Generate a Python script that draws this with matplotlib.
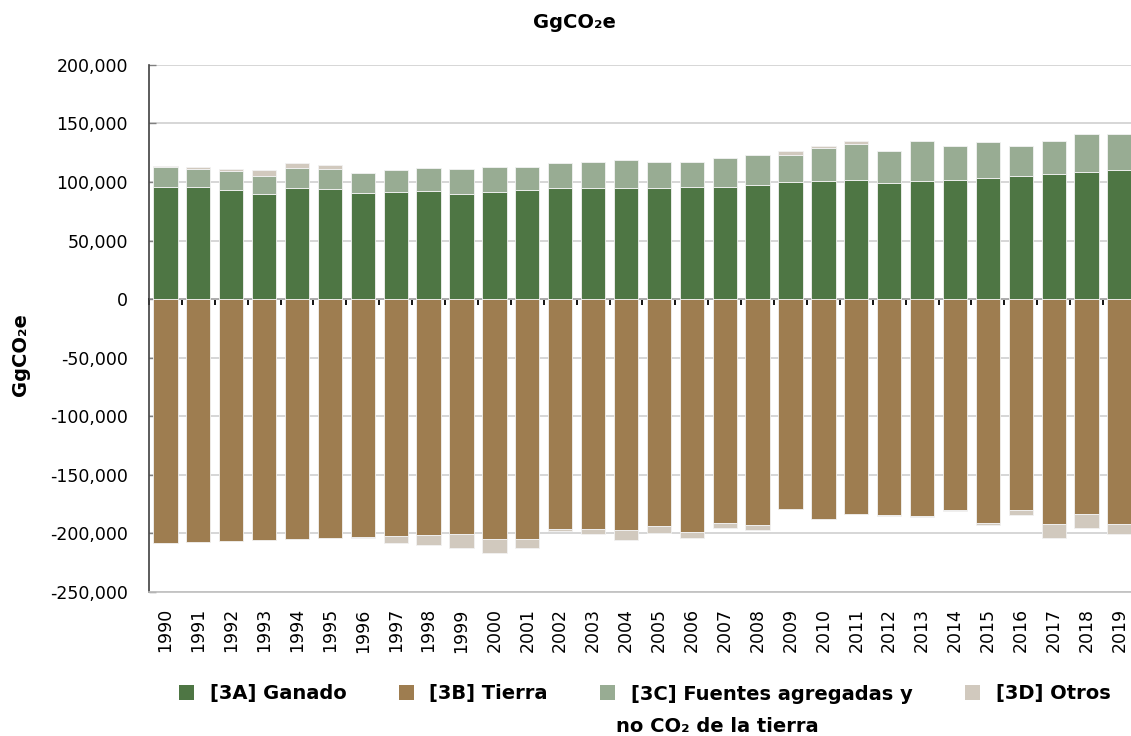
import numpy as np
import matplotlib
matplotlib.use('Agg')
import matplotlib.pyplot as plt
from matplotlib.ticker import FuncFormatter
from matplotlib.patches import Patch

## data (GgCO2e)
years = list(range(1990, 2020))
ganado = [95900, 95600, 93100, 90000, 95100, 93700, 90800, 91700, 92500, 90000,
          91700, 92800, 95100, 95100, 95100, 94500, 95600, 95900, 97400, 99900,
          100800, 101900, 99300, 101000, 101600, 103300, 105300, 107000, 108700, 110400]
tierra = [-208700, -207800, -207000, -206100, -205300, -204400, -203300, -202200, -201300, -200500,
          -205000, -205300, -196200, -196200, -197400, -194200, -199100, -191400, -193100, -179200,
          -188300, -183700, -184600, -185400, -180300, -191400, -180300, -192200, -183700, -192500]
fuentes = [17000, 15600, 16400, 15300, 17000, 17500, 16500, 18400, 19600, 20700,
           21200, 19900, 21300, 22100, 23300, 22400, 21900, 24200, 25500, 23300,
           28300, 30600, 27300, 34100, 29000, 30900, 25500, 28100, 32100, 30400]
otros = [900, 1500, 1800, 4800, 4300, 3500, -1100, -6500, -9100, -11900,
         -12500, -7100, -1700, -4600, -8200, -5700, -4800, -4000, -4300, 3100,
         1500, 2900, -600, -600, -500, -1400, -4500, -12200, -11700, -8500]

labels = ['[3A] Ganado', '[3B] Tierra', '[3C] Fuentes agregadas y', '[3D] Otros']
colors = ['#4e7644', '#9e7d50', '#98ac93', '#d1c9be']

plt.rcParams['font.family'] = ['DejaVu Sans']

fig = plt.figure(figsize=(11.31, 7.36), dpi=100)
ax = fig.add_axes([0.1317, 0.1963, 0.8727, 0.7154])

ind = np.arange(len(years))
g = np.array(ganado)
t = np.array(tierra)
f = np.array(fuentes)
o = np.array(otros)
o_bottom = np.where(o >= 0, g + f, t)

w = 0.74
ec = '#f2f2f2'
ax.bar(ind, g, w, color=colors[0], edgecolor=ec, linewidth=0.6, zorder=3)
ax.bar(ind, t, w, color=colors[1], edgecolor=ec, linewidth=0.6, zorder=3)
ax.bar(ind, f, w, bottom=g, color=colors[2], edgecolor=ec, linewidth=0.6, zorder=3)
ax.bar(ind, o, w, bottom=o_bottom, color=colors[3], edgecolor=ec, linewidth=0.6, zorder=3)

ax.set_xlim(-0.5, len(years) - 0.5)
ax.set_ylim(-250000, 200000)
ax.set_yticks(np.arange(-250000, 200001, 50000))
ax.yaxis.set_major_formatter(FuncFormatter(lambda v, p: '{:,.0f}'.format(v)))
ax.grid(which='major', axis='y', color='#cfcfcf', linewidth=1.2, zorder=0)

ax.set_xticks(ind)
ax.set_xticklabels([str(y) for y in years], rotation=90, fontsize=12.5)
ax.tick_params(axis='x', length=0, pad=12)
ax.tick_params(axis='y', labelsize=12.5, direction='in', length=5, width=1.0,
               color='#808080', pad=15)

for s in ['top', 'right']:
    ax.spines[s].set_visible(False)
ax.spines['bottom'].set_color('#bfbfbf')
ax.spines['bottom'].set_linewidth(1.2)
ax.spines['left'].set_color('#404040')
ax.spines['left'].set_linewidth(1.2)

# zero line with category ticks
zpos = 250000 / 450000
sec = ax.secondary_xaxis(zpos)
sec.set_xticks(np.arange(-0.5, len(years), 1.0))
sec.set_xticklabels([])
sec.tick_params(axis='x', direction='in', length=4.5, width=1.3, color='black')
for s in sec.spines.values():
    s.set_color('black')
    s.set_linewidth(1.4)

fig.text(0.018, 1 - 355 / 736, 'GgCO₂e', rotation=90, ha='center', va='center',
         fontsize=14, fontweight='bold')
fig.text(574 / 1131, 1 - 22 / 736, 'GgCO₂e', ha='center', va='center',
         fontsize=14, fontweight='bold')

handles = [Patch(facecolor=c, edgecolor='none') for c in colors]
leg = fig.legend(handles, labels, loc='center left', bbox_to_anchor=(179 / 1131, 1 - 694 / 736),
                 ncol=4, frameon=False, prop={'size': 14, 'weight': 'bold'}, borderpad=0,
                 borderaxespad=0, handlelength=0.77, handleheight=0.77,
                 handletextpad=0.8, columnspacing=2.7)
fig.text(717 / 1131, 1 - 727 / 736, 'no CO₂ de la tierra', ha='center', va='center',
         fontsize=14, fontweight='bold')

plt.savefig('out.png', format='png', dpi=100)
